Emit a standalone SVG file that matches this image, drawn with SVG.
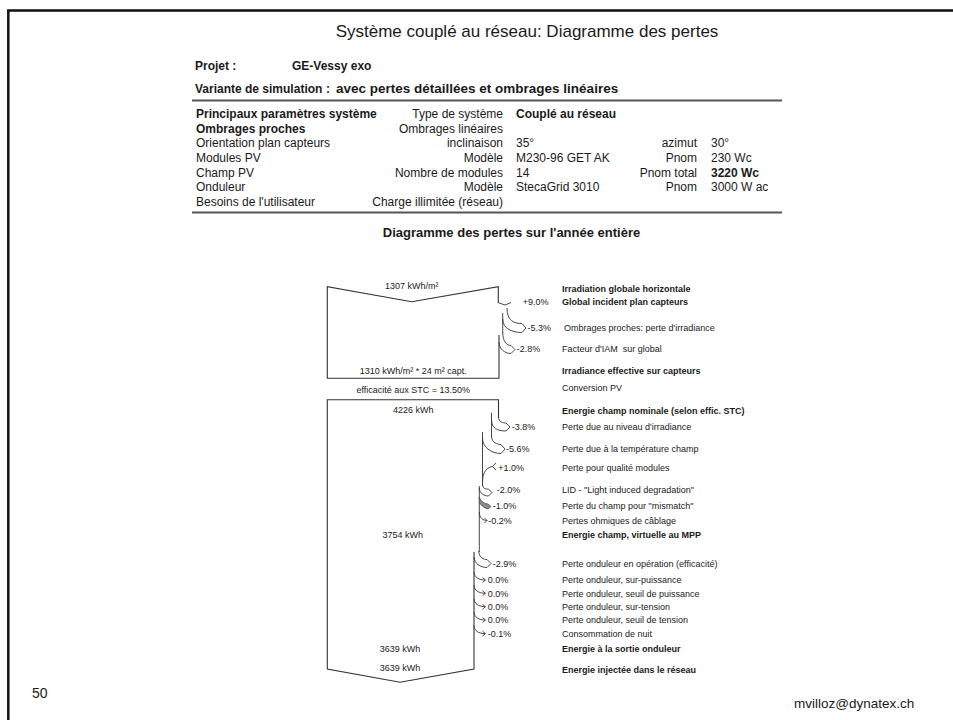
<svg xmlns="http://www.w3.org/2000/svg" width="953" height="720" viewBox="0 0 953 720">
<style>
text{font-family:"Liberation Sans",Arial,sans-serif;fill:#1a1a1a}
.t12{font-size:12px}
.b12{font-size:12px;font-weight:bold}
.b13{font-size:13px;font-weight:bold}
.r{text-anchor:end}
.m{text-anchor:middle}
.s{font-size:9px}
.sb{font-size:9px;font-weight:bold}
.box{fill:none;stroke:#333;stroke-width:1.1;stroke-linejoin:miter}
.ar{fill:none;stroke:#333;stroke-width:0.9}
.rule{stroke:#555;stroke-width:2}
</style>
<rect width="953" height="720" fill="#fff"/>
<g id="frame">
<path d="M8.3,720 V10.5 H953" fill="none" stroke="#111" stroke-width="2.5"/>
</g>
<g id="header">
<text x="527" y="37" class="m" style="font-size:17px">Système couplé au réseau: Diagramme des pertes</text>
<text x="195" y="69.5" class="b12">Projet :</text>
<text x="292" y="69.5" class="b12">GE-Vessy exo</text>
<text x="195" y="92.5" class="b12">Variante de simulation</text>
<text x="326" y="92.5" class="b12">:</text>
<text x="336" y="92.5" class="b13" style="font-size:13.5px">avec pertes détaillées et ombrages linéaires</text>
<line x1="192" y1="100.5" x2="782" y2="100.5" class="rule"/>
</g>
<g id="params">
<text x="196" y="117.8" class="b12">Principaux paramètres système</text>
<text x="503" y="117.8" class="t12 r">Type de système</text>
<text x="516" y="117.8" class="b12">Couplé au réseau</text>
<text x="196" y="132.5" class="b12">Ombrages proches</text>
<text x="503" y="132.5" class="t12 r">Ombrages linéaires</text>
<text x="196" y="147.1" class="t12">Orientation plan capteurs</text>
<text x="503" y="147.1" class="t12 r">inclinaison</text>
<text x="516" y="147.1" class="t12">35°</text>
<text x="697" y="147.1" class="t12 r">azimut</text>
<text x="711" y="147.1" class="t12">30°</text>
<text x="196" y="161.8" class="t12">Modules PV</text>
<text x="503" y="161.8" class="t12 r">Modèle</text>
<text x="516" y="161.8" class="t12">M230-96 GET AK</text>
<text x="697" y="161.8" class="t12 r">Pnom</text>
<text x="711" y="161.8" class="t12">230 Wc</text>
<text x="196" y="176.5" class="t12">Champ PV</text>
<text x="503" y="176.5" class="t12 r">Nombre de modules</text>
<text x="516" y="176.5" class="t12">14</text>
<text x="697" y="176.5" class="t12 r">Pnom total</text>
<text x="711" y="176.5" class="b12">3220 Wc</text>
<text x="196" y="191.1" class="t12">Onduleur</text>
<text x="503" y="191.1" class="t12 r">Modèle</text>
<text x="516" y="191.1" class="t12">StecaGrid 3010</text>
<text x="697" y="191.1" class="t12 r">Pnom</text>
<text x="711" y="191.1" class="t12">3000 W ac</text>
<text x="196" y="205.8" class="t12">Besoins de l'utilisateur</text>
<text x="503" y="205.8" class="t12 r">Charge illimitée (réseau)</text>
<line x1="192" y1="212.5" x2="782" y2="212.5" class="rule"/>
<text x="511.5" y="236.5" class="b13 m">Diagramme des pertes sur l'année entière</text>
</g>
<g id="box-irradiation">
<path class="box" d="M498.3,302.7 V286.7 L411.7,301.7 L327.3,286.7 V378.3 H499 V335"/>
<text x="411.7" y="289" class="s m">1307 kWh/m²</text>
<text x="413.3" y="374.2" class="s m">1310 kWh/m² * 24 m² capt.</text>
</g>
<text x="413.3" y="392.5" class="s m">efficacité aux STC = 13.50%</text>
<g id="box-energie">
<path class="box" d="M498.5,418 V399.8 H327.3 V669 L400,682.3 L474,669 V552"/>
<text x="413.3" y="412.5" class="s m">4226 kWh</text>
<text x="402.7" y="537.5" class="s m">3754 kWh</text>
<text x="400" y="651.5" class="s m">3639 kWh</text>
<text x="400" y="671" class="s m">3639 kWh</text>
</g>
<g id="connectors">
<path class="ar" d="M498.3,302.7 L505,305 L511,302.5"/>
<path class="ar" d="M507,308 C507,321 514,323.5 522,323.5 L526,328 L522,332.5 C513,332.5 502.7,329 502.7,319"/>
<path class="ar" d="M502.7,313 V333"/>
<path class="ar" d="M502.7,332 C502.7,342 507,345.5 511,345.5 L515,349.5 L511,353.5 C505,353.5 499,349 499,342"/>
<path class="ar" d="M498.5,417 C498.5,422 503,423 506,423 L510,427 L506,431 C497,431 491.5,428 491.5,420"/>
<path class="ar" d="M491.5,412.7 V437"/>
<path class="ar" d="M491.5,436 C491.5,443 498,444.5 501,444.5 L505,449 L501,453.5 C491,453.5 482.5,447 482.5,438"/>
<path class="ar" d="M482.5,432 V486"/>
<path class="ar" d="M482.5,482 C482.5,472 487,467 493,466.5"/>
<path class="ar" d="M496,463 L492.5,466.5 L496,470"/>
<path class="ar" d="M482.5,484 C482.5,489 486,489 488.5,489 L492,492.5 L488.5,496 C484,496 479.3,493 479.3,488"/>
<path class="ar" d="M479.3,486 V552"/>
<path d="M479.3,497 C481,502 485,503.5 488,504 L491,506.5 L488,509 C484,508 480.5,505 479.3,502.5 Z" fill="#8a8a8a" stroke="#444" stroke-width="0.7"/>
<path class="ar" d="M479.3,512 C479.3,518 483,520.5 487,520.5 M484.5,518 L487,520.5 L484.5,523"/>
<path class="ar" d="M478.8,551 C478.8,558 484,559.5 487,559.5 L491,563.5 L487,567.5 C480,567.5 474,563 474,557"/>
<path class="ar" d="M474,572 C474,577 479,580 485,580 M482.5,577.5 L485.5,580 L482.5,582.5"/>
<path class="ar" d="M474,585.3 C474,590.3 479,593.3 485,593.3 M482.5,590.8 L485.5,593.3 L482.5,595.8"/>
<path class="ar" d="M474,598.7 C474,603.7 479,606.7 485,606.7 M482.5,604.2 L485.5,606.7 L482.5,609.2"/>
<path class="ar" d="M474,612 C474,617 479,620 485,620 M482.5,617.5 L485.5,620 L482.5,622.5"/>
<path class="ar" d="M474,625.7 C474,630.7 479,633.7 485,633.7 M482.5,631.2 L485.5,633.7 L482.5,636.2"/>
</g>
<g id="percents">
<text x="522.7" y="305" class="s">+9.0%</text>
<text x="527.5" y="330.5" class="s">-5.3%</text>
<text x="516.7" y="351.5" class="s">-2.8%</text>
<text x="511.7" y="430" class="s">-3.8%</text>
<text x="506" y="452.2" class="s">-5.6%</text>
<text x="498.3" y="470.5" class="s">+1.0%</text>
<text x="496.7" y="492.5" class="s">-2.0%</text>
<text x="492.7" y="509.2" class="s">-1.0%</text>
<text x="488.3" y="524.2" class="s">-0.2%</text>
<text x="492.7" y="566.5" class="s">-2.9%</text>
<text x="487.7" y="583.2" class="s">0.0%</text>
<text x="487.7" y="596.5" class="s">0.0%</text>
<text x="487.7" y="609.9" class="s">0.0%</text>
<text x="487.7" y="623.2" class="s">0.0%</text>
<text x="487.7" y="636.9" class="s">-0.1%</text>
</g>
<g id="labels">
<text x="562" y="292.2" class="sb">Irradiation globale horizontale</text>
<text x="562" y="305" class="sb">Global incident plan capteurs</text>
<text x="564" y="330.5" class="s">Ombrages proches: perte d'irradiance</text>
<text x="562" y="351.5" class="s" xml:space="preserve">Facteur d'IAM  sur global</text>
<text x="562" y="374.2" class="sb">Irradiance effective sur capteurs</text>
<text x="562" y="391.2" class="s">Conversion PV</text>
<text x="562" y="413.9" class="sb">Energie champ nominale (selon effic. STC)</text>
<text x="562" y="429.9" class="s">Perte due au niveau d'irradiance</text>
<text x="562" y="452.2" class="s">Perte due à la température champ</text>
<text x="562" y="470.5" class="s">Perte pour qualité modules</text>
<text x="562" y="492.5" class="s">LID - "Light induced degradation"</text>
<text x="562" y="509.2" class="s">Perte du champ pour "mismatch"</text>
<text x="562" y="524.2" class="s">Pertes ohmiques de câblage</text>
<text x="562" y="538.2" class="sb">Energie champ, virtuelle au MPP</text>
<text x="562" y="566.5" class="s">Perte onduleur en opération (efficacité)</text>
<text x="562" y="583.2" class="s">Perte onduleur, sur-puissance</text>
<text x="562" y="596.5" class="s">Perte onduleur, seuil de puissance</text>
<text x="562" y="609.9" class="s">Perte onduleur, sur-tension</text>
<text x="562" y="623.2" class="s">Perte onduleur, seuil de tension</text>
<text x="562" y="636.9" class="s">Consommation de nuit</text>
<text x="562" y="652.2" class="sb">Energie à la sortie onduleur</text>
<text x="562" y="672.5" class="sb">Energie injectée dans le réseau</text>
</g>
<g id="footer">
<text x="32" y="698" style="font-size:14px">50</text>
<text x="794" y="708" style="font-size:13.5px">mvilloz@dynatex.ch</text>
</g>
</svg>
